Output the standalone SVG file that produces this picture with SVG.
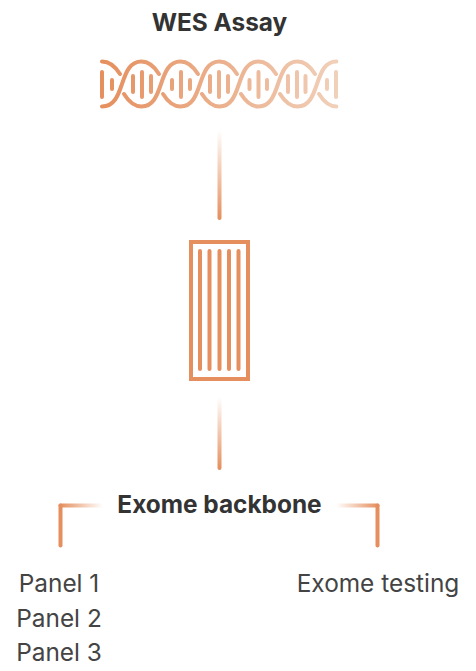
<svg xmlns="http://www.w3.org/2000/svg" width="476" height="671" viewBox="0 0 476 671">
<style>
.t{font-family:Inter,"Liberation Sans",sans-serif;text-anchor:middle}
.b{font-size:24.400px;font-weight:700;fill:#333333}
.r{font-size:24.400px;font-weight:400;fill:#444444}
.o{fill:none;stroke-width:4;stroke-linecap:round;stroke-linejoin:round}
</style>
<defs>
<linearGradient id="dna" gradientUnits="userSpaceOnUse" x1="101" y1="0" x2="338" y2="0"><stop offset="0" stop-color="#E58F5E"/><stop offset="1" stop-color="#F1D0BA"/></linearGradient>
<linearGradient id="v1" gradientUnits="userSpaceOnUse" x1="0" y1="130" x2="0" y2="219"><stop offset="0" stop-color="#E58F5E" stop-opacity="0"/><stop offset="1" stop-color="#E58F5E"/></linearGradient>
<linearGradient id="v2" gradientUnits="userSpaceOnUse" x1="0" y1="397" x2="0" y2="469"><stop offset="0" stop-color="#E58F5E" stop-opacity="0"/><stop offset="1" stop-color="#E58F5E"/></linearGradient>
<linearGradient id="hl" gradientUnits="userSpaceOnUse" x1="103" y1="0" x2="60" y2="0"><stop offset="0" stop-color="#E58F5E" stop-opacity="0"/><stop offset="1" stop-color="#E58F5E"/></linearGradient>
<linearGradient id="hr" gradientUnits="userSpaceOnUse" x1="336" y1="0" x2="378" y2="0"><stop offset="0" stop-color="#E58F5E" stop-opacity="0"/><stop offset="1" stop-color="#E58F5E"/></linearGradient>
<clipPath id="dc"><rect x="100" y="50" width="238.500" height="70"/></clipPath>
</defs>
<g id="wes-assay"><text class="t b" x="219.500" y="31">WES Assay</text></g>
<g id="dna-helix" clip-path="url(#dc)" fill="none" stroke="url(#dna)" stroke-width="4" stroke-linecap="round">
<path d="M102 106.500C114 106.500 118 96 122 84C126 72 130 61.500 141.500 61.500C149 61.500 154 66 159 74"/>
<path d="M124 94C129 102 134 106.500 141.500 106.500C153 106.500 157 96 161 84C165 72 169 61.500 180.500 61.500C188 61.500 193 66 198 74"/>
<path d="M163 94C168 102 173 106.500 180.500 106.500C192 106.500 196 96 200 84C204 72 208 61.500 219.500 61.500C227 61.500 232 66 237 74"/>
<path d="M202 94C207 102 212 106.500 219.500 106.500C231 106.500 235 96 239 84C243 72 247 61.500 258.500 61.500C266 61.500 271 66 276 74"/>
<path d="M241 94C246 102 251 106.500 258.500 106.500C270 106.500 274 96 278 84C282 72 286 61.500 297.500 61.500C305 61.500 310 66 315 74"/>
<path d="M280 94C285 102 290 106.500 297.500 106.500C309 106.500 313 96 317 84C321 72 325 61.500 336.500 61.500"/>
<path d="M319 94C324 102 329 106.500 336.500 106.500"/>
<path d="M102 61.500C110 61.500 115 66 120 74"/>
<path d="M102 72V97M112 80V89M133 76V92M142 72V97M151 76V92M172 80V89M181 72V97M190 80V89M210 76V92M219 72V97M228 76V92M249.500 80V89M258.500 72V97M267 80V89M288 76V92M297 72V97M305.500 76V92M327 80V89M336 72V97"/>
</g>
<g id="connectors">
<path class="o" stroke="url(#v1)" d="M219.500 132V218"/>
<path class="o" stroke="url(#v2)" d="M219.500 399V468"/>
<path class="o" stroke="url(#hl)" d="M103 505.500H60.500"/>
<path class="o" stroke="#E58F5E" d="M60.500 505.500V545.500"/>
<path class="o" stroke="url(#hr)" d="M336 505.500H377.500"/>
<path class="o" stroke="#E58F5E" d="M377.500 505.500V545.500"/>
</g>
<g id="cartridge" fill="none" stroke="#E58F5E" stroke-width="4">
<rect x="191" y="242" width="57" height="137"/>
<path stroke-linecap="round" d="M200 251V369M209.500 251V369M219.500 251V369M229 251V369M238.500 251V369"/>
</g>
<g id="exome-backbone"><text class="t b" x="219.500" y="513">Exome backbone</text></g>
<g id="panels">
<text class="t r" x="59" y="592">Panel 1</text>
<text class="t r" x="59" y="627">Panel 2</text>
<text class="t r" x="59" y="660.500">Panel 3</text>
</g>
<g id="exome-testing"><text class="t r" x="378" y="592">Exome testing</text></g>
</svg>
